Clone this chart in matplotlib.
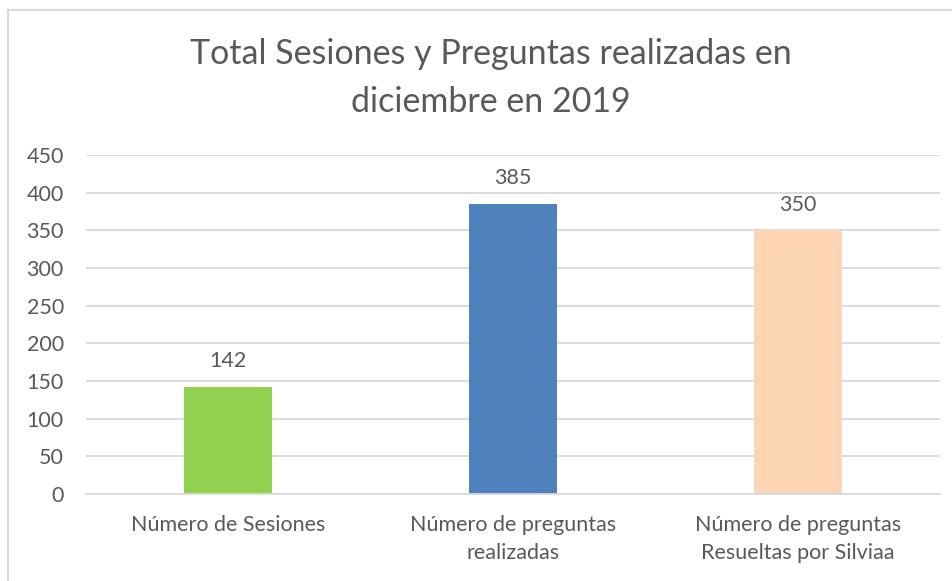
import matplotlib
matplotlib.use("Agg")
import matplotlib.pyplot as plt
from matplotlib.patches import Rectangle

categories = ["Número de Sesiones", "Número de preguntas\nrealizadas",
              "Número de preguntas\nResueltas por Silviaa"]
values = [142, 385, 350]
colors = ["#92D050", "#4F81BD", "#FCD5B5"]
yticks = [0, 50, 100, 150, 200, 250, 300, 350, 400, 450]

plt.rcParams['font.family'] = ['Lato', 'DejaVu Sans']
text_color = "#595959"

fig = plt.figure(figsize=(9.53, 5.81), dpi=100)
W, H = 953, 581
ax = fig.add_axes([86 / W, 1 - 494 / H, (940 - 86) / W, (494 - 155) / H])

x = range(len(categories))
bars = ax.bar(x, values, width=0.31, color=colors, zorder=3)
for b, v in zip(bars, values):
    ax.text(b.get_x() + b.get_width() / 2, v + 34, str(v), ha='center', va='center',
            fontsize=15.5, color=text_color)

ax.set_xlim(-0.5, 2.5)
ax.set_ylim(0, 450)
ax.set_yticks(yticks)
ax.set_xticks(list(x))
ax.set_xticklabels(categories, fontsize=15.5, color=text_color, linespacing=1.5)
ax.tick_params(axis='y', labelsize=15.5, labelcolor=text_color, length=0, pad=16)
ax.tick_params(axis='x', length=0, pad=15)
ax.grid(axis='y', color="#D9D9D9", linewidth=1.3, zorder=0)
for s in ['top', 'right', 'left']:
    ax.spines[s].set_visible(False)
ax.spines['bottom'].set_color("#D9D9D9")
ax.spines['bottom'].set_linewidth(1.3)
ax.spines['bottom'].set_zorder(4)

fig.text(491 / W, 1 - 78 / H, "Total Sesiones y Preguntas realizadas en\ndiciembre en 2019",
         ha='center', va='center', fontsize=24.5, color=text_color, linespacing=1.62)

# chart frame
fig.patches.append(Rectangle((8 / W, -0.01), 1.0, 1 - 10 / H + 0.01, transform=fig.transFigure,
                             fill=False, edgecolor="#D9D9D9", linewidth=1.5))

fig.savefig("out.png", dpi=100)
